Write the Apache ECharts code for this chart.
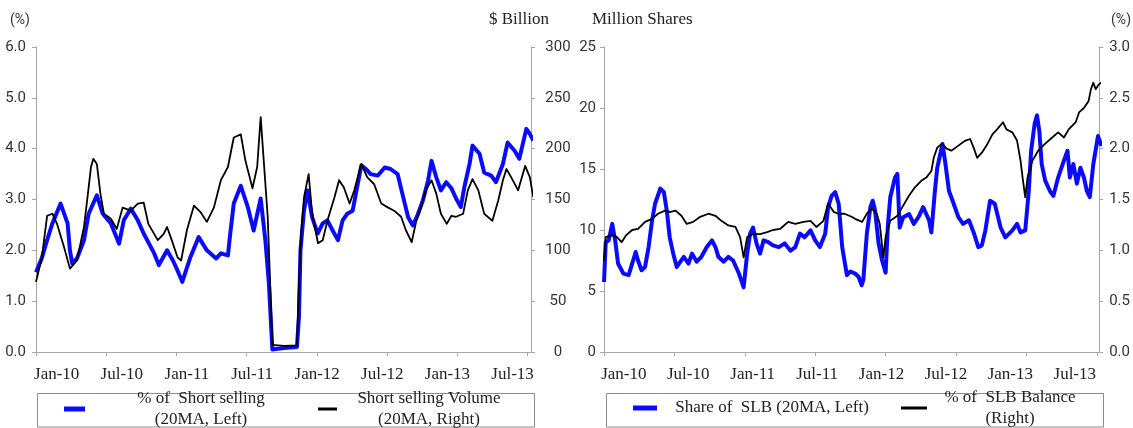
<!DOCTYPE html>
<html>
<head>
<meta charset="utf-8">
<script src="https://cdn.jsdelivr.net/npm/echarts@6/dist/echarts.min.js"></script>
<style>
html,body{margin:0;padding:0;background:#fff;}
#c{width:1133px;height:428px;}
</style>
</head>
<body>
<div id="c"></div>
<script>
// x positions are months since Jan-2010
const xLabels = ['Jan-10','Jul-10','Jan-11','Jul-11','Jan-12','Jul-12','Jan-13','Jul-13'];
const tickMonths = [0,6,12,18,24,30,36,42];

// Left chart: % of short selling (20MA, left axis, %)
const shortPct = [[0,1.57],[0.5,1.85],[0.95,2.2],[1.4,2.53],[2.1,2.92],[2.7,2.53],[2.9,2.0],[3.1,1.74],[3.5,1.84],[4.1,2.2],[4.5,2.72],[5.2,3.08],[5.7,2.72],[6.4,2.53],[7.1,2.13],[7.5,2.59],[8.1,2.82],[8.7,2.59],[9.2,2.33],[10.1,1.94],[10.5,1.71],[11.2,2.0],[11.7,1.8],[12.1,1.6],[12.5,1.38],[13.2,1.87],[13.9,2.26],[14.6,2.0],[15.4,1.84],[15.8,1.94],[16.4,1.9],[16.6,2.33],[16.9,2.92],[17.5,3.27],[18.1,2.85],[18.6,2.39],[19.2,3.02],[19.6,2.2],[19.9,1.35],[20.2,0.05],[20.5,0.06],[21.2,0.08],[22.3,0.1],[22.47,0.69],[22.6,2.0],[22.9,2.78],[23.2,3.18],[23.6,2.65],[24.07,2.33],[24.5,2.53],[24.9,2.59],[25.35,2.39],[25.8,2.2],[26.2,2.59],[26.6,2.72],[27.06,2.78],[27.5,3.31],[27.8,3.67],[28.2,3.6],[28.6,3.5],[29.2,3.47],[29.8,3.63],[30.3,3.6],[30.9,3.5],[31.3,3.12],[31.8,2.65],[32.2,2.49],[32.6,2.69],[33.06,2.98],[33.5,3.37],[33.8,3.76],[34.2,3.44],[34.6,3.18],[35.05,3.34],[35.5,3.22],[35.9,3.02],[36.3,2.85],[36.6,3.24],[37.05,3.7],[37.3,4.06],[37.9,3.9],[38.3,3.53],[38.9,3.47],[39.3,3.34],[39.9,3.7],[40.3,4.12],[40.9,3.96],[41.3,3.8],[41.9,4.39],[42.2,4.29],[42.5,4.16]];

// Left chart: short selling volume (20MA, right axis, $ billion)
const shortVol = [[0,69],[0.5,93],[0.95,134],[1.4,136],[1.8,126],[2.4,103],[2.9,82],[3.5,90],[4.1,123],[4.4,152],[4.7,182],[4.9,190],[5.2,185],[5.5,156],[5.8,136],[6.4,131],[6.9,121],[7.4,142],[8.1,139],[8.7,146],[9.2,147],[9.6,126],[10.4,110],[10.9,116],[11.2,123],[11.6,110],[12.1,93],[12.4,90],[12.9,120],[13.5,144],[14.1,137],[14.6,128],[15.2,142],[15.8,169],[16.4,182],[16.9,211],[17.5,214],[17.9,188],[18.5,161],[18.9,182],[19.2,231],[19.5,182],[19.8,133],[20.2,7],[21.2,6],[22.3,6.5],[22.45,61],[22.65,116],[22.9,152],[23.3,175],[23.6,136],[24.1,107],[24.5,110],[24.9,129],[25.5,152],[25.9,169],[26.3,162],[26.8,146],[27.2,159],[27.8,185],[28.3,172],[28.9,165],[29.5,146],[30.1,142],[30.6,139],[31.2,133],[31.6,120],[32.1,108],[32.5,129],[32.9,142],[33.3,159],[33.8,169],[34.2,156],[34.6,136],[35.1,126],[35.5,134],[35.9,133],[36.5,136],[36.9,159],[37.3,170],[37.8,159],[38.3,136],[39.0,129],[39.5,149],[39.9,169],[40.2,180],[40.6,172],[41.2,159],[41.8,183],[42.2,172],[42.5,152]];

// Right chart: share of SLB (20MA, left axis, million shares)
const slbShare = [[0,5.74],[0.15,9.0],[0.4,9.15],[0.7,10.5],[0.95,9.15],[1.2,7.25],[1.65,6.43],[2.1,6.3],[2.4,7.25],[2.7,8.2],[2.9,7.5],[3.2,6.7],[3.5,6.97],[3.8,8.6],[4.1,10.8],[4.35,12.15],[4.8,13.4],[5.1,13.1],[5.35,11.6],[5.6,9.4],[5.9,8.06],[6.2,6.97],[6.8,7.8],[7.2,7.25],[7.5,8.06],[7.9,7.4],[8.3,7.8],[8.76,8.6],[9.2,9.15],[9.5,8.6],[9.75,7.8],[10.2,7.4],[10.6,7.8],[11.0,7.5],[11.5,6.43],[11.9,5.3],[12.2,8.06],[12.45,9.7],[12.7,10.2],[13.0,8.9],[13.3,8.06],[13.6,9.15],[14.0,9.0],[14.4,8.74],[14.9,8.6],[15.4,8.9],[15.9,8.3],[16.3,8.6],[16.7,9.7],[17.1,9.4],[17.6,9.97],[18.0,9.15],[18.4,8.6],[18.85,9.7],[19.1,11.87],[19.4,12.8],[19.7,13.1],[20.0,12.15],[20.3,8.6],[20.7,6.3],[21.0,6.6],[21.4,6.43],[21.7,6.15],[21.96,5.47],[22.1,5.9],[22.4,9.7],[22.7,11.87],[22.9,12.4],[23.1,11.6],[23.4,8.9],[23.7,7.5],[24.0,6.5],[24.2,10.5],[24.4,12.7],[24.8,14.3],[25.0,14.6],[25.2,10.2],[25.5,11.05],[26.0,11.3],[26.4,10.5],[26.8,11.05],[27.2,11.87],[27.7,10.8],[27.9,9.8],[28.2,13.2],[28.4,15.1],[28.85,17.05],[29.1,15.4],[29.4,13.2],[29.8,12.15],[30.2,11.05],[30.6,10.5],[31.1,10.8],[31.5,9.8],[31.9,8.6],[32.2,8.74],[32.5,9.97],[32.9,12.4],[33.3,12.15],[33.8,10.2],[34.2,9.4],[34.8,9.97],[35.2,10.5],[35.5,9.8],[35.9,9.97],[36.2,13.2],[36.4,16.5],[36.7,18.7],[36.9,19.4],[37.1,18.1],[37.3,15.4],[37.6,14.05],[38.0,13.2],[38.3,12.8],[38.7,14.3],[39.2,15.7],[39.5,16.5],[39.7,14.3],[40.0,15.4],[40.3,13.8],[40.6,15.1],[40.9,14.3],[41.15,13.2],[41.4,12.7],[41.7,15.4],[42.1,17.7],[42.4,16.9]];

// Right chart: % of SLB balance (right axis, %)
const slbBalance = [[0,0.9],[0.15,1.13],[0.66,1.15],[1.1,1.13],[1.5,1.08],[1.9,1.15],[2.4,1.2],[2.9,1.21],[3.5,1.28],[4.1,1.31],[4.6,1.36],[5.2,1.39],[5.6,1.375],[6.1,1.39],[6.6,1.34],[7.05,1.26],[7.6,1.28],[8.2,1.33],[8.9,1.36],[9.5,1.34],[10.0,1.29],[10.6,1.245],[11.2,1.23],[11.6,1.13],[11.9,0.93],[12.2,1.13],[12.7,1.16],[13.3,1.16],[13.9,1.18],[14.4,1.2],[15.0,1.21],[15.7,1.28],[16.3,1.26],[17.0,1.28],[17.6,1.29],[18.1,1.23],[18.7,1.29],[19.1,1.46],[19.6,1.375],[20.0,1.36],[20.5,1.36],[21.1,1.33],[21.4,1.31],[22.0,1.28],[22.4,1.36],[22.8,1.41],[23.25,1.36],[23.5,1.26],[23.8,0.93],[24.0,1.13],[24.4,1.29],[25.0,1.34],[25.4,1.42],[26.0,1.54],[26.5,1.62],[27.1,1.69],[27.5,1.72],[27.9,1.78],[28.1,1.91],[28.4,2.01],[28.8,2.05],[29.2,2.0],[29.6,1.98],[30.2,2.03],[30.8,2.08],[31.2,2.095],[31.5,2.01],[31.8,1.91],[32.2,1.96],[32.6,2.03],[33.1,2.14],[33.5,2.19],[34.0,2.26],[34.3,2.19],[34.8,2.16],[35.2,2.08],[35.5,1.88],[35.7,1.69],[35.9,1.52],[36.1,1.72],[36.5,1.88],[37.0,1.98],[37.6,2.05],[38.2,2.11],[38.7,2.16],[39.2,2.11],[39.6,2.19],[40.2,2.26],[40.5,2.36],[40.9,2.40],[41.3,2.47],[41.5,2.585],[41.7,2.65],[41.9,2.585],[42.15,2.63],[42.4,2.65]];

const seriesNames = {
  pct: '% of  Short selling (20MA, Left)',
  vol: 'Short selling Volume (20MA, Right)',
  share: 'Share of  SLB (20MA, Left)',
  bal: '% of  SLB Balance (Right)'
};
const legendText = {};
legendText[seriesNames.pct] = '% of  Short selling\n(20MA, Left)';
legendText[seriesNames.vol] = 'Short selling Volume\n(20MA, Right)';
legendText[seriesNames.share] = 'Share of  SLB (20MA, Left)';
legendText[seriesNames.bal] = '% of  SLB Balance\n(Right)';

const AX = '#a6a6a6';
const BLUE = '#0a0aff';
const SERIF = "'Liberation Serif', 'DejaVu Serif', serif";
const NARROW = "'Liberation Sans Narrow', 'Arial Narrow', Roboto, 'Liberation Sans', sans-serif";

function makeX(gridIndex, max, labelStart, labelStep) {
  const labelPos = xLabels.map((_, i) => labelStart + i * labelStep);
  return {
    type: 'value', gridIndex, min: 0, max,
    splitLine: { show: false },
    axisLine: { show: true, onZero: false, lineStyle: { color: AX } },
    axisTick: { show: true, inside: false, length: 4, lineStyle: { color: AX }, customValues: tickMonths },
    axisLabel: {
      customValues: labelPos,
      formatter: (v) => xLabels[Math.round((v - labelStart) / labelStep)],
      margin: 14, fontFamily: SERIF, fontSize: 17, color: '#222'
    }
  };
}
function makeY(gridIndex, position, max, interval, digits, labelOpt) {
  return {
    type: 'value', gridIndex, position, min: 0, max, interval,
    splitLine: { show: false },
    axisLine: { show: true, lineStyle: { color: AX } },
    axisTick: { show: true, inside: false, length: 4, lineStyle: { color: AX } },
    axisLabel: Object.assign({
      formatter: (v) => v.toFixed(digits),
      fontFamily: NARROW, fontSize: 15, color: '#333'
    }, labelOpt)
  };
}
function legendItem(name, left, top, w, h, textWidth) {
  return {
    left, top, padding: 0, itemWidth: w, itemHeight: h, itemGap: 0,
    selectedMode: false, icon: 'rect', data: [name],
    formatter: (n) => legendText[n].split('\n').map(s => '{t|' + s + '}').join('\n'),
    textStyle: {
      rich: { t: { width: textWidth, align: 'center', fontFamily: SERIF, fontSize: 17, lineHeight: 21, color: '#222' } }
    }
  };
}
function line(name, data, xi, yi, color, width) {
  return {
    name, type: 'line', data, xAxisIndex: xi, yAxisIndex: yi,
    showSymbol: false, symbol: 'none', animation: false,
    itemStyle: { color },
    lineStyle: { color, width, join: 'round' }
  };
}

const chart = echarts.init(document.getElementById('c'), null, { renderer: 'canvas' });
chart.setOption({
  backgroundColor: '#fff',
  animation: false,
  grid: [
    { left: 36, top: 47, width: 495, height: 305 },
    { left: 604, top: 47, width: 499, height: 305 }
  ],
  xAxis: [
    makeX(0, 42.3, 1.77, 5.565),
    makeX(1, 42.2, 1.69, 5.49)
  ],
  yAxis: [
    makeY(0, 'left', 6, 1, 1, { margin: 10 }),
    makeY(0, 'right', 300, 50, 0, { margin: 27, align: 'center' }),
    makeY(1, 'left', 25, 5, 0, { margin: 8 }),
    makeY(1, 'right', 3, 0.5, 1, { margin: 10 })
  ],
  legend: [
    legendItem(seriesNames.pct, 64, 390, 21, 5, 222),
    legendItem(seriesNames.vol, 318, 390, 19, 3, 174),
    legendItem(seriesNames.share, 633, 399.5, 24, 5, 220),
    legendItem(seriesNames.bal, 901, 389, 26, 3, 156)
  ],
  graphic: [
    { type: 'rect', shape: { x: 37.5, y: 393.5, width: 497, height: 33.5 }, style: { fill: 'none', stroke: '#8c8c8c', lineWidth: 1 }, silent: true },
    { type: 'rect', shape: { x: 606.5, y: 393.5, width: 497, height: 33.5 }, style: { fill: 'none', stroke: '#8c8c8c', lineWidth: 1 }, silent: true },
    { type: 'text', x: 10, y: 20, style: { text: '(%)', font: "14px " + NARROW, fill: '#333', textAlign: 'left', textVerticalAlign: 'middle' }, silent: true },
    { type: 'text', x: 1131, y: 20, style: { text: '(%)', font: "14px " + NARROW, fill: '#333', textAlign: 'right', textVerticalAlign: 'middle' }, silent: true },
    { type: 'text', x: 489, y: 20, style: { text: '$ Billion', font: "17px " + SERIF, fill: '#222', textAlign: 'left', textVerticalAlign: 'middle' }, silent: true },
    { type: 'text', x: 592, y: 20, style: { text: 'Million Shares', font: "17px " + SERIF, fill: '#222', textAlign: 'left', textVerticalAlign: 'middle' }, silent: true }
  ],
  series: [
    line(seriesNames.pct, shortPct, 0, 0, BLUE, 4),
    line(seriesNames.vol, shortVol, 0, 1, '#000', 1.8),
    line(seriesNames.share, slbShare, 1, 2, BLUE, 4),
    line(seriesNames.bal, slbBalance, 1, 3, '#000', 1.8)
  ]
});
</script>
</body>
</html>
